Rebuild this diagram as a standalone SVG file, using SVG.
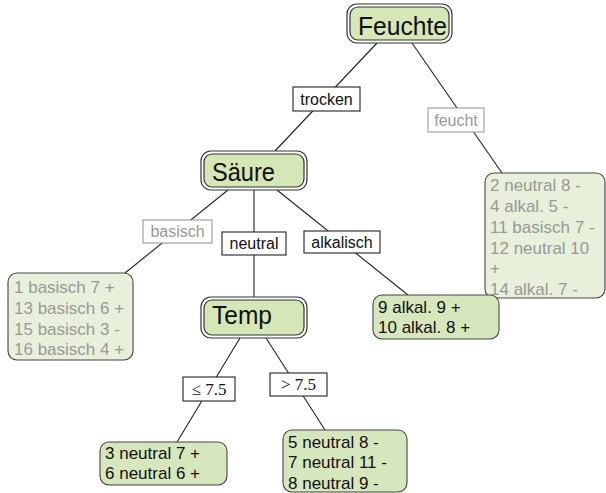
<svg xmlns="http://www.w3.org/2000/svg" width="606" height="493" viewBox="0 0 606 493">
<style>
.edge{stroke:#222;stroke-width:1.1;fill:none}
.outer{fill:#fff;stroke:#333;stroke-width:1.2}
.inner{fill:#d5e6b7;stroke:#333;stroke-width:1.2}
.big{font-family:"Liberation Sans",Arial,sans-serif;font-size:26px;fill:#111}
.leaf{fill:#d7e7bd;stroke:#444;stroke-width:1.1}
.leafg{fill:#e8f0dc;stroke:#444;stroke-width:1.1}
.lt{font-family:"Liberation Sans",Arial,sans-serif;font-size:17px;fill:#111}
.gt{font-family:"Liberation Sans",Arial,sans-serif;font-size:17px;fill:#999}
.lab{fill:#fff;stroke:#222;stroke-width:1.1}
.labg{fill:#fff;stroke:#999;stroke-width:1.1}
.ltx{font-family:"Liberation Sans",Arial,sans-serif;font-size:16px;fill:#111;text-anchor:middle}
.gtx{font-family:"Liberation Sans",Arial,sans-serif;font-size:16px;fill:#999;text-anchor:middle}
.mtx{font-family:"Liberation Serif","Times New Roman",serif;font-size:17px;fill:#111;text-anchor:middle}
</style>
<g id="connectors">
<line class="edge" x1="377" y1="43" x2="275" y2="151"/>
<line class="edge" x1="412" y1="43" x2="502" y2="173"/>
<line class="edge" x1="228" y1="190" x2="125" y2="273"/>
<line class="edge" x1="254" y1="190" x2="254" y2="297"/>
<line class="edge" x1="277" y1="190" x2="408" y2="295"/>
<line class="edge" x1="240" y1="338" x2="177" y2="442"/>
<line class="edge" x1="266" y1="338" x2="325" y2="430"/>
</g>
<g id="label-trocken"><rect class="lab" x="293" y="87" width="67" height="24"/><text class="ltx" x="326.5" y="104.5">trocken</text></g>
<g id="label-feucht"><rect class="labg" x="428" y="108" width="56" height="24"/><text class="gtx" x="456" y="125.5">feucht</text></g>
<g id="label-basisch"><rect class="labg" x="143" y="220" width="69" height="23"/><text class="gtx" x="177.5" y="237">basisch</text></g>
<g id="label-neutral"><rect class="lab" x="222" y="232" width="64" height="23"/><text class="ltx" x="254" y="249">neutral</text></g>
<g id="label-alkalisch"><rect class="lab" x="304" y="231" width="76" height="22"/><text class="ltx" x="342" y="247.5">alkalisch</text></g>
<g id="label-le"><rect class="lab" x="183" y="377" width="52" height="24"/><text class="mtx" x="209" y="394.5">≤ 7.5</text></g>
<g id="label-gt"><rect class="lab" x="270" y="373" width="57" height="23"/><text class="mtx" x="298.5" y="390">&gt; 7.5</text></g>
<g id="node-feuchte">
<rect class="outer" x="347" y="4" width="105" height="39" rx="10"/>
<rect class="inner" x="350" y="7" width="99" height="33" rx="8"/>
<text class="big" x="358" y="35" textLength="89" lengthAdjust="spacingAndGlyphs">Feuchte</text>
</g>
<g id="node-saeure">
<rect class="outer" x="201" y="151" width="106" height="39" rx="10"/>
<rect class="inner" x="204" y="154" width="100" height="33" rx="8"/>
<text class="big" x="212" y="181" textLength="63" lengthAdjust="spacingAndGlyphs">Säure</text>
</g>
<g id="node-temp">
<rect class="outer" x="201" y="297" width="106" height="41" rx="10"/>
<rect class="inner" x="204" y="300" width="100" height="35" rx="8"/>
<text class="big" x="212" y="324" textLength="60" lengthAdjust="spacingAndGlyphs">Temp</text>
</g>
<g id="leaf-feucht">
<rect class="leafg" x="485" y="173" width="120" height="125" rx="9"/>
<text class="gt" x="490" y="191">2 neutral 8 -</text>
<text class="gt" x="490" y="212">4 alkal. 5 -</text>
<text class="gt" x="490" y="233">11 basisch 7 -</text>
<text class="gt" x="490" y="253.5">12 neutral 10</text>
<text class="gt" x="490" y="274">+</text>
<text class="gt" x="490" y="295">14 alkal. 7 -</text>
</g>
<g id="leaf-basisch">
<rect class="leafg" x="8" y="273" width="125" height="87" rx="9"/>
<text class="gt" x="14" y="293">1 basisch 7 +</text>
<text class="gt" x="14" y="314">13 basisch 6 +</text>
<text class="gt" x="14" y="335">15 basisch 3 -</text>
<text class="gt" x="14" y="355">16 basisch 4 +</text>
</g>
<g id="leaf-alkalisch">
<rect class="leaf" x="373" y="295" width="126" height="44" rx="9"/>
<text class="lt" x="378" y="313">9 alkal. 9 +</text>
<text class="lt" x="378" y="333">10 alkal. 8 +</text>
</g>
<g id="leaf-le">
<rect class="leaf" x="100" y="442" width="127" height="43" rx="9"/>
<text class="lt" x="105" y="459">3 neutral 7 +</text>
<text class="lt" x="105" y="479">6 neutral 6 +</text>
</g>
<g id="leaf-gt">
<rect class="leaf" x="283" y="430" width="124" height="62" rx="9"/>
<text class="lt" x="288" y="448">5 neutral 8 -</text>
<text class="lt" x="288" y="468">7 neutral 11 -</text>
<text class="lt" x="288" y="488.5">8 neutral 9 -</text>
</g>
</svg>
